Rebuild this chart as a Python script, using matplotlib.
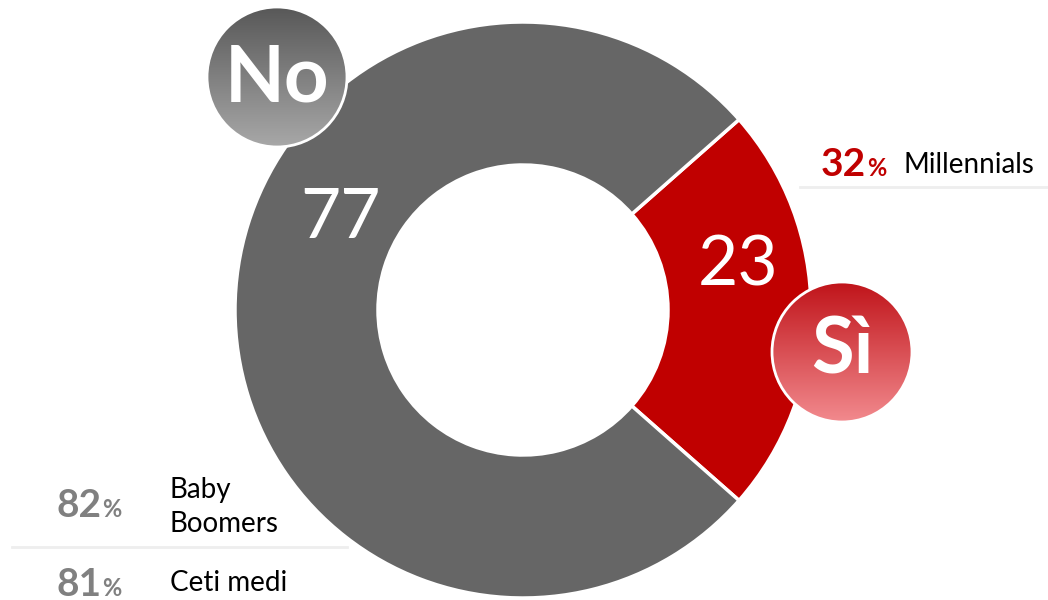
import numpy as np
import matplotlib
matplotlib.use("Agg")
import matplotlib.pyplot as plt
from matplotlib.patches import Circle
from matplotlib.colors import LinearSegmentedColormap

plt.rcParams['font.family'] = ['Lato', 'DejaVu Sans']

# data
answers = ['Sì', 'No']
shares = [23, 77]
colors = ['#c00000', '#666666']
group_pct = [32, 82, 81]
group_names = ['Millennials', 'Baby\nBoomers', 'Ceti medi']

W, H = 1048, 600
fig = plt.figure(figsize=(W / 100, H / 100), dpi=100)
ax = fig.add_axes([0, 0, 1, 1])


def Y(y_img):
    # image (top-down) pixel to data (bottom-up)
    return H - y_img


cx, cy, R = 523, Y(310), 288
ax.pie(shares, colors=colors, startangle=41.4, counterclock=False,
       center=(cx, cy), radius=R,
       wedgeprops=dict(width=143, edgecolor='white', linewidth=2.5))

# values on the ring
ax.text(340, Y(238), str(shares[1]), color='white', fontsize=50,
        ha='center', va='baseline')
ax.text(738, Y(285), str(shares[0]), color='white', fontsize=50,
        ha='center', va='baseline')


def bubble(x, y, r, top, bottom, label, base):
    cmap = LinearSegmentedColormap.from_list('g', [bottom, top])
    grad = np.linspace(0, 1, 256).reshape(-1, 1)
    circ = Circle((x, y), r, facecolor='none', edgecolor='white',
                  linewidth=2, zorder=6)
    im = ax.imshow(grad, cmap=cmap, origin='lower', aspect='auto',
                   extent=(x - r, x + r, y - r, y + r), zorder=5)
    ax.add_patch(circ)
    im.set_clip_path(circ)
    ax.text(x, base, label, color='white', fontsize=56, fontweight='bold',
            ha='center', va='baseline', zorder=7)


bubble(277, Y(77), 70, '#585858', '#a8a8a8', answers[1], Y(101))
bubble(842, Y(352), 70, '#c0141a', '#f28a8e', answers[0], Y(373))


def pct(x, y, value, color):
    ax.text(x, y, str(value), color=color, fontsize=28,
            fontweight='bold', ha='right', va='baseline')
    ax.text(x + 1, y, '%', color=color, fontsize=17,
            fontweight='bold', ha='left', va='baseline')


# side annotations
pct(866, Y(176), group_pct[0], '#c00000')
ax.text(903, Y(173), group_names[0], color='black', fontsize=20,
        ha='left', va='baseline')
ax.plot([800, 1048], [Y(187), Y(187)], color='#eeeeee', lw=2)

pct(101, Y(517), group_pct[1], '#808080')
ax.text(170, Y(532), group_names[1], color='black', fontsize=20,
        ha='left', va='baseline', linespacing=1.4)
ax.plot([12, 347], [Y(547), Y(547)], color='#eeeeee', lw=2)

pct(101, Y(596), group_pct[2], '#808080')
ax.text(170, Y(591), group_names[2], color='black', fontsize=20,
        ha='left', va='baseline')

ax.set_xlim(0, W)
ax.set_ylim(0, H)
ax.set_aspect('equal')
ax.axis('off')

fig.savefig('out.png', dpi=100)
